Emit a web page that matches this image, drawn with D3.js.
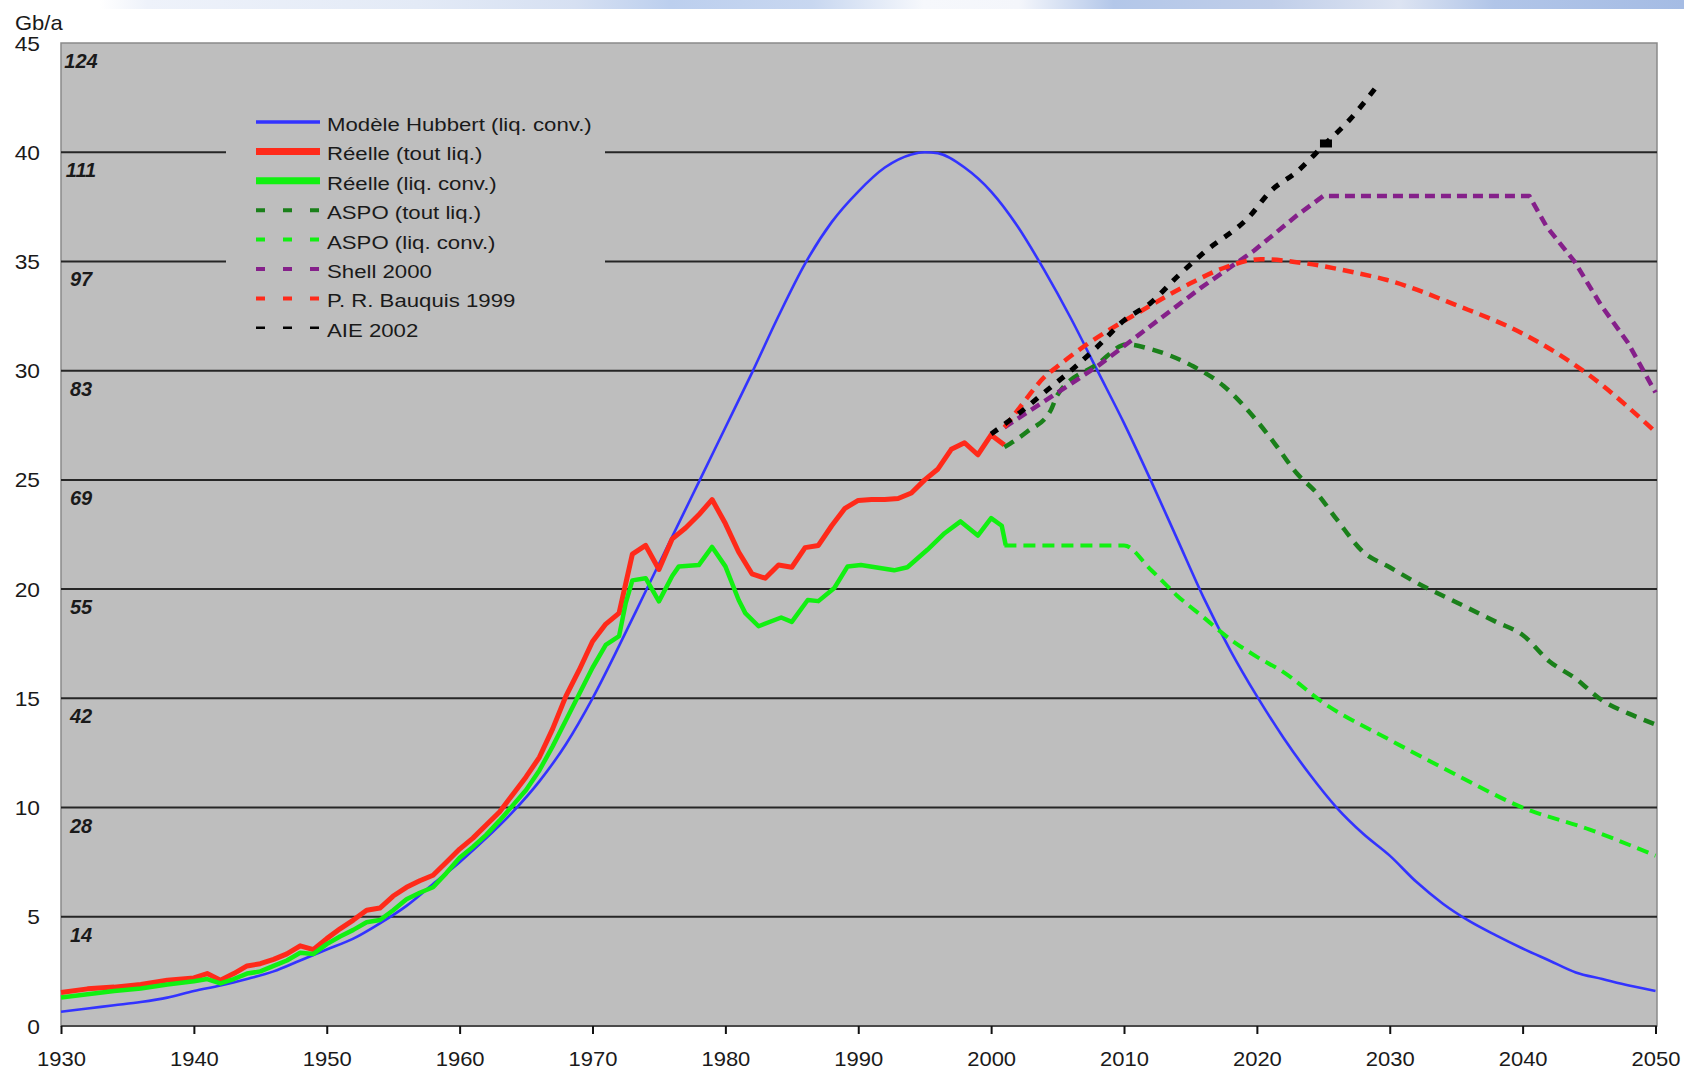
<!DOCTYPE html>
<html>
<head>
<meta charset="utf-8">
<script src="https://cdn.jsdelivr.net/npm/d3@7"></script>
<style>
  body { margin: 0; background: #ffffff; }
  svg { display: block; font-family: "Liberation Sans", Arial, sans-serif; }
</style>
</head>
<body>
<svg id="chart" width="1684" height="1073"></svg>
<script>
// ---- Data (Gb/a) ----
const hubbert = [
  [1930,0.65],[1932,0.8],[1934,0.95],[1936,1.1],[1938,1.3],[1940,1.6],[1942,1.85],[1944,2.15],
  [1946,2.5],[1948,3.0],[1950,3.5],[1952,4.0],[1954,4.7],[1956,5.5],[1958,6.5],[1960,7.5],
  [1962,8.6],[1964,9.8],[1966,11.2],[1968,12.9],[1970,15.0],[1972,17.4],[1974,19.9],[1976,22.4],
  [1978,24.9],[1980,27.4],[1982,29.9],[1984,32.5],[1986,34.9],[1988,36.8],[1990,38.2],[1992,39.3],
  [1994,39.9],[1995,40.0],[1996,39.95],[1998,39.3],[2000,38.2],[2002,36.6],[2004,34.6],[2006,32.4],
  [2008,30.0],[2010,27.6],[2012,25.0],[2014,22.3],[2016,19.6],[2018,17.2],[2020,15.1],[2022,13.2],
  [2024,11.5],[2026,10.0],[2028,8.8],[2030,7.8],[2032,6.6],[2034,5.6],[2036,4.8],[2038,4.15],
  [2040,3.55],[2042,3.0],[2044,2.45],[2046,2.15],[2048,1.85],[2050,1.6]
];
const reelleTout = [
  [1930,1.53],[1932,1.7],[1934,1.78],[1936,1.9],[1938,2.1],[1940,2.2],[1941,2.4],[1942,2.1],
  [1943,2.4],[1944,2.75],[1945,2.85],[1946,3.05],[1947,3.3],[1948,3.67],[1949,3.5],[1950,4.0],
  [1951,4.45],[1952,4.85],[1953,5.3],[1954,5.4],[1955,5.95],[1956,6.35],[1957,6.65],[1958,6.9],
  [1959,7.5],[1960,8.1],[1961,8.6],[1962,9.2],[1963,9.8],[1964,10.6],[1965,11.4],[1966,12.3],
  [1967,13.6],[1968,15.1],[1969,16.3],[1970,17.6],[1971,18.4],[1972,18.9],[1973,21.6],[1974,22.0],
  [1975,20.9],[1976,22.3],[1977,22.8],[1978,23.4],[1979,24.1],[1980,23.0],[1981,21.7],[1982,20.7],
  [1983,20.5],[1984,21.1],[1985,21.0],[1986,21.9],[1987,22.0],[1988,22.9],[1989,23.7],[1990,24.06],
  [1991,24.1],[1992,24.1],[1993,24.15],[1994,24.4],[1995,25.0],[1996,25.5],[1997,26.4],[1998,26.7],
  [1999,26.15],[2000,27.06],[2001,26.6]
];
const reelleConv = [
  [1930,1.3],[1932,1.45],[1934,1.6],[1936,1.72],[1938,1.9],[1940,2.05],[1941,2.15],[1942,1.95],
  [1943,2.15],[1944,2.4],[1945,2.5],[1946,2.75],[1947,3.0],[1948,3.35],[1949,3.3],[1950,3.75],
  [1951,4.1],[1952,4.4],[1953,4.75],[1954,4.85],[1955,5.3],[1956,5.8],[1957,6.1],[1958,6.35],
  [1959,7.0],[1960,7.7],[1961,8.2],[1962,8.75],[1963,9.4],[1964,10.1],[1965,10.8],[1966,11.7],
  [1967,12.8],[1968,14.0],[1969,15.2],[1970,16.4],[1971,17.45],[1972,17.85],[1972.5,19.36],[1973,20.4],
  [1974,20.5],[1975,19.44],[1976,20.6],[1976.5,21.04],[1978,21.1],[1979,21.93],[1980,21.04],[1981,19.5],
  [1981.5,18.9],[1982.5,18.3],[1984.2,18.7],[1985,18.5],[1986.2,19.5],[1987,19.45],[1988.2,20.05],
  [1989.2,21.04],[1990.2,21.1],[1992.7,20.86],[1993.7,21.0],[1995.2,21.8],[1996.5,22.56],[1997.7,23.1],
  [1999,22.45],[2000,23.25],[2000.8,22.9],[2001.1,22.0]
];
const aspoTout = [
  [2001,26.5],[2002.7,27.2],[2004.5,28.2],[2005,28.9],[2008,30.3],[2010.2,31.2],[2012.2,30.95],
  [2015.2,30.2],[2017.5,29.3],[2019.3,28.2],[2021.3,26.7],[2023,25.3],[2024.5,24.4],[2026,23.2],
  [2028,21.7],[2030,21.0],[2032,20.3],[2035,19.4],[2038,18.5],[2040,17.9],[2042,16.7],[2044,15.9],
  [2046,14.9],[2048,14.3],[2050,13.8]
];
const aspoConv = [
  [2001,22.0],[2005,22.0],[2010,22.0],[2012,20.9],[2014,19.7],[2016,18.7],[2018,17.7],[2020,16.9],
  [2022,16.2],[2025,14.8],[2030,13.1],[2035,11.5],[2040,10.0],[2045,9.0],[2050,7.8]
];
const shell2000 = [
  [2001,27.4],[2008,30.2],[2015.8,33.8],[2019.8,35.5],[2023,37.1],[2025,38.0],[2040.5,38.0],
  [2041.8,36.6],[2043.9,35.0],[2045.9,33.0],[2047.9,31.3],[2050,29.0]
];
const bauquis1999 = [
  [2001,27.4],[2002.2,28.35],[2004,29.7],[2005,30.2],[2007.2,31.2],[2011.2,32.7],[2015,34.0],
  [2017.5,34.7],[2020.3,35.1],[2023.8,34.9],[2027.3,34.5],[2029.8,34.15],[2035,33.0],[2040,31.7],
  [2045,29.8],[2050,27.2]
];
const aie2002 = [
  [2000,27.1],[2002,28.0],[2004,29.0],[2006,30.0],[2008,31.1],[2010,32.3],[2012,33.1],[2014,34.3],
  [2016,35.4],[2019.5,37.1],[2021,38.2],[2023,39.1],[2025,40.3],[2027,41.5],[2029,43.0]
];
const aieMarker = [[2025.2,40.4]];

const yearTicks = [1930,1940,1950,1960,1970,1980,1990,2000,2010,2020,2030,2040,2050];
const valueTicks = [0,5,10,15,20,25,30,35,40,45];
const gridValues = [5,10,15,20,25,30,35,40];
const innerLabels = [[45,"124"],[40,"111"],[35,"97"],[30,"83"],[25,"69"],[20,"55"],[15,"42"],[10,"28"],[5,"14"]];

const legendItems = [
  {label:"Modèle Hubbert (liq. conv.)", color:"#3333ff", width:3.5, dash:null},
  {label:"Réelle (tout liq.)",          color:"#ff2a1a", width:7,   dash:null},
  {label:"Réelle (liq. conv.)",         color:"#11f011", width:7,   dash:null},
  {label:"ASPO (tout liq.)",            color:"#1a801a", width:4,   dash:"9,18"},
  {label:"ASPO (liq. conv.)",           color:"#11f011", width:4,   dash:"9,18"},
  {label:"Shell 2000",                  color:"#85208a", width:4,   dash:"9,18"},
  {label:"P. R. Bauquis 1999",          color:"#ff2a1a", width:4,   dash:"9,18"},
  {label:"AIE 2002",                    color:"#000000", width:2.5, dash:"9,18"}
];

// ---- Layout ----
const svg = d3.select("#chart");
const W = 1684, H = 1073;
const plot = {left: 61, right: 1657, top: 43, bottom: 1026};
const x = d3.scaleLinear().domain([1930, 2050]).range([plot.left, 1655.5]);
const y = d3.scaleLinear().domain([0, 45]).range([plot.bottom, plot.top]);
const plotFill = "#bebebe";

svg.append("rect").attr("width", W).attr("height", H).attr("fill", "#ffffff");

// decorative banner strip along the top edge
const defs = svg.append("defs");
const grad = defs.append("linearGradient").attr("id", "banner")
  .attr("x1", "0%").attr("x2", "100%").attr("y1", "0%").attr("y2", "0%");
[[0,"#ffffff"],[0.03,"#eef2fa"],[0.2,"#e3eaf6"],[0.3,"#d6e0f2"],[0.36,"#bccfee"],
 [0.45,"#c8d7f0"],[0.52,"#f6f8fc"],[0.58,"#f4f6fb"],[0.64,"#b3c7e9"],[0.74,"#c0cee9"],
 [0.82,"#dde4f2"],[0.88,"#b1c5e8"],[1,"#a5bce4"]]
  .forEach(([o,c]) => grad.append("stop").attr("offset", o).attr("stop-color", c));
svg.append("rect").attr("x", 100).attr("y", 0).attr("width", W - 100).attr("height", 9)
  .attr("fill", "url(#banner)");

// plot area
svg.append("rect")
  .attr("x", plot.left).attr("y", plot.top)
  .attr("width", plot.right - plot.left).attr("height", plot.bottom - plot.top)
  .attr("fill", plotFill).attr("stroke", "#8a8a8a").attr("stroke-width", 1.5);

// horizontal gridlines
svg.append("g").selectAll("line").data(gridValues).join("line")
  .attr("x1", plot.left).attr("x2", plot.right)
  .attr("y1", d => y(d)).attr("y2", d => y(d))
  .attr("stroke", "#262626").attr("stroke-width", 2);

// legend panel sits over the gridlines
svg.append("rect").attr("x", 226).attr("y", 98).attr("width", 379).attr("height", 248)
  .attr("fill", plotFill);

// bottom axis line and ticks
svg.append("line").attr("x1", plot.left).attr("x2", plot.right)
  .attr("y1", plot.bottom).attr("y2", plot.bottom)
  .attr("stroke", "#4a4a4a").attr("stroke-width", 2);

const xAxis = d3.axisBottom(x).tickValues(yearTicks).tickSize(8).tickFormat(d3.format("d"));
const gx = svg.append("g").attr("transform", `translate(0,${plot.bottom})`).call(xAxis);
gx.select(".domain").remove();
gx.selectAll(".tick line").attr("stroke", "#111").attr("stroke-width", 2);
gx.selectAll(".tick text")
  .attr("y", 0).attr("dy", null)
  .attr("font-size", 20).attr("fill", "#1a1a1a")
  .attr("transform", "translate(0,40) scale(1.1,1)");

const yAxis = d3.axisLeft(y).tickValues(valueTicks).tickSize(0).tickFormat(d3.format("d"));
const gy = svg.append("g").attr("transform", `translate(40,0)`).call(yAxis);
gy.select(".domain").remove();
gy.selectAll(".tick text")
  .attr("x", 0).attr("dy", "0.35em")
  .attr("font-size", 20).attr("fill", "#1a1a1a")
  .attr("transform", "scale(1.14,1)");

// unit label
svg.append("text").attr("transform", "translate(15,30) scale(1.1,1)")
  .attr("font-size", 20).attr("fill", "#1a1a1a").text("Gb/a");

// italic values inside the plot, under each gridline
svg.append("g").selectAll("text").data(innerLabels).join("text")
  .attr("x", 81).attr("y", d => y(d[0]) + 25)
  .attr("text-anchor", "middle")
  .attr("font-size", 20).attr("font-weight", "bold").attr("font-style", "italic")
  .attr("fill", "#1a1a1a")
  .text(d => d[1]);

// ---- Series ----
const lineSmooth = d3.line().x(d => x(d[0])).y(d => y(d[1])).curve(d3.curveMonotoneX);
const lineRaw = d3.line().x(d => x(d[0])).y(d => y(d[1]));

const series = [
  {data: hubbert,     gen: lineSmooth, color: "#3333ff", width: 2.6, dash: null},
  {data: reelleTout,  gen: lineRaw,    color: "#ff2a1a", width: 5,   dash: null},
  {data: reelleConv,  gen: lineRaw,    color: "#11f011", width: 4.5, dash: null},
  {data: aspoTout,    gen: lineSmooth, color: "#1a801a", width: 4.5, dash: "11,8"},
  {data: aspoConv,    gen: lineSmooth, color: "#11f011", width: 4,   dash: "12,7"},
  {data: shell2000,   gen: lineRaw,    color: "#85208a", width: 4.5, dash: "10,6"},
  {data: bauquis1999, gen: lineSmooth, color: "#ff2a1a", width: 4.5, dash: "11,7"},
  {data: aie2002,     gen: lineSmooth, color: "#000000", width: 5,   dash: "8,9"}
];

svg.append("g").selectAll("path").data(series).join("path")
  .attr("d", s => s.gen(s.data))
  .attr("fill", "none")
  .attr("stroke", s => s.color)
  .attr("stroke-width", s => s.width)
  .attr("stroke-dasharray", s => s.dash)
  .attr("stroke-linejoin", "round");

svg.append("g").selectAll("rect").data(aieMarker).join("rect")
  .attr("x", d => x(d[0]) - 6).attr("y", d => y(d[1]) - 4)
  .attr("width", 12).attr("height", 8).attr("fill", "#000");

// ---- Legend ----
const lg = svg.append("g");
const rowY = i => 122 + i * 29.4;
legendItems.forEach((it, i) => {
  lg.append("line")
    .attr("x1", 256).attr("x2", 320)
    .attr("y1", rowY(i)).attr("y2", rowY(i))
    .attr("stroke", it.color).attr("stroke-width", it.width)
    .attr("stroke-dasharray", it.dash);
  lg.append("text")
    .attr("transform", `translate(327,${rowY(i) + 9}) scale(1.2,1)`)
    .attr("font-size", 18.5).attr("fill", "#1a1a1a")
    .text(it.label);
});
</script>
</body>
</html>
